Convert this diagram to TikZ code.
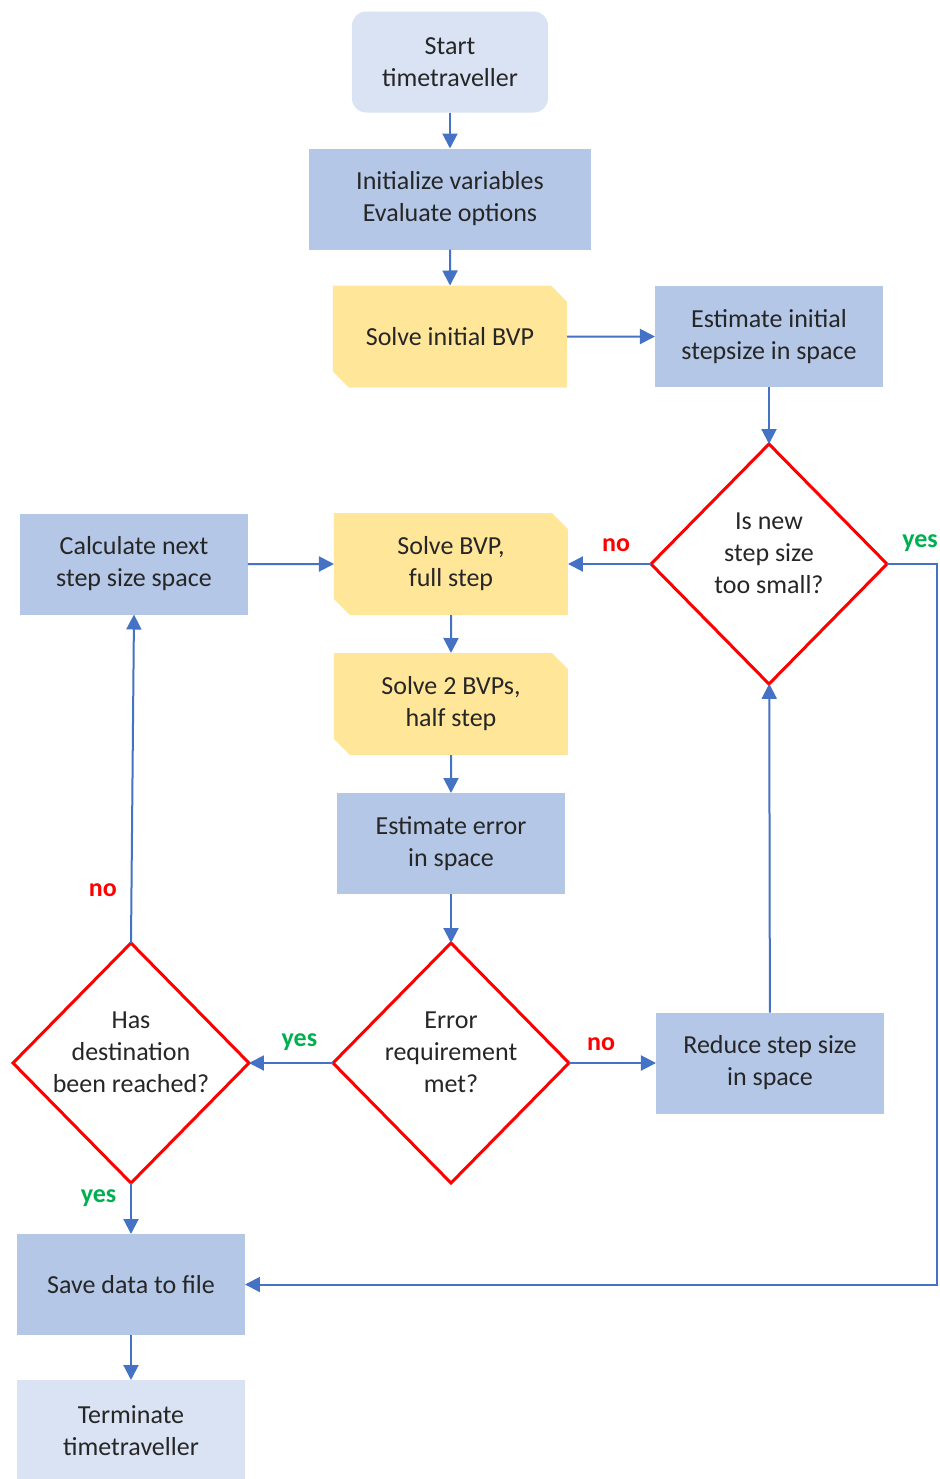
\documentclass[tikz,border=0pt]{standalone}
\usepackage{fontspec}
\setmainfont{Carlito}
\usetikzlibrary{positioning}
\usetikzlibrary{shapes.geometric, shapes.misc, arrows.meta}

\definecolor{lightbox}{HTML}{DAE3F3}
\definecolor{midbox}{HTML}{B4C7E7}
\definecolor{bvpbox}{HTML}{FFE699}
\definecolor{flowline}{HTML}{4472C4}
\definecolor{noclr}{HTML}{FF0000}
\definecolor{yesclr}{HTML}{00B050}
\definecolor{txt}{HTML}{262626}

\begin{document}
\begin{tikzpicture}[
font=\fontsize{13}{16}\selectfont, text=txt, every node/.append style={outer sep=0pt},
endnode/.style={rectangle, fill=lightbox, align=center, minimum width=114pt, minimum height=50.5pt},
startnode/.style={endnode, rounded corners=7pt, minimum width=98pt},
tasknode/.style={rectangle, fill=midbox, align=center, minimum width=114pt, minimum height=50.5pt},
bvpnode/.style={chamfered rectangle, chamfered rectangle corners={north east, south west}, chamfered rectangle xsep=4pt, chamfered rectangle ysep=4pt, fill=bvpbox, align=center, minimum width=117pt, minimum height=51pt},
asknode/.style={diamond, draw=noclr, line width=1.5pt, fill=white, inner sep=0pt, minimum width=118pt, minimum height=120pt},
flow/.style={draw=flowline, line width=1pt, -{Triangle[width=7.5pt,length=7.5pt]}},
nolbl/.style={text=noclr, font=\fontsize{13}{14}\selectfont\bfseries},
yeslbl/.style={text=yesclr, font=\fontsize{13}{14}\selectfont\bfseries},
asktext/.style={align=center, yshift=5.5pt},
]
\useasboundingbox (-225pt,31pt) rectangle (245pt,-708.5pt);

%Nodes
\node[startnode]   (start)                          {Start\\timetraveller};
\node[tasknode, minimum width=141pt] (init) [below=18pt of start] {Initialize variables\\Evaluate options};
\node[bvpnode]     (bvpinit)  [below=18pt of init]     {Solve initial BVP};
\node[tasknode]    (stepinit) [right=44pt of bvpinit]  {Estimate initial\\stepsize in space};
\node[asknode, label={[asktext]center:Is new\\step size\\too small?}] (small) [below=28.5pt of stepinit] {};
\node[bvpnode]     (bvpfull)  [left=41.5pt of small]   {Solve BVP,\\full step};
\node[tasknode]    (nextstep) [left=43pt of bvpfull]   {Calculate next\\step size space};
\node[bvpnode]     (bvphalf)  [below=19pt of bvpfull]  {Solve 2 BVPs,\\half step};
\node[tasknode]    (esterr)   [below=19pt of bvphalf]  {Estimate error\\in space};
\node[asknode, label={[asktext]center:Error\\requirement\\met?}] (errok) [below=24.5pt of esterr] {};
\node[tasknode]    (reduce)   [right=43.5pt of errok]  {Reduce step size\\in space};
\node[asknode, label={[asktext]center:Has\\destination\\been reached?}] (reached) [left=42pt of errok] {};
\node[tasknode]    (save)     [below=25.5pt of reached] {Save data to file};
\node[endnode]     (stop)     [below=22.5pt of save]   {Terminate\\timetraveller};

%Lines
\draw[flow] (start) -- (init);
\draw[flow] (init) -- (bvpinit);
\draw[flow] (bvpinit) -- (stepinit);
\draw[flow] (stepinit) -- (small);
\draw[flow] (small.west) -- (bvpfull.east) node[nolbl, pos=0.42, above=3pt] {no};
\draw[flow] (small.east) -- ++(25pt,0) node[yeslbl, pos=0.66, above=3pt] {yes} |- (save.east);
\draw[flow] (nextstep) -- (bvpfull);
\draw[flow] (bvpfull) -- (bvphalf);
\draw[flow] (bvphalf) -- (esterr);
\draw[flow] (esterr) -- (errok);
\draw[flow] (errok.east) -- (reduce.west) node[nolbl, pos=0.37, above=3pt] {no};
\draw[flow] (errok.west) -- (reached.east) node[yeslbl, pos=0.4, above=3pt] {yes};
\draw[flow] (reduce) -- (small);
\draw[flow] (reached.north) -- (nextstep.south) node[nolbl, pos=0.16, left=4pt] {no};
\draw[flow] (reached.south) -- (save.north) node[yeslbl, pos=0.3, left=4pt] {yes};
\draw[flow] (save) -- (stop);
\end{tikzpicture}
\end{document}
